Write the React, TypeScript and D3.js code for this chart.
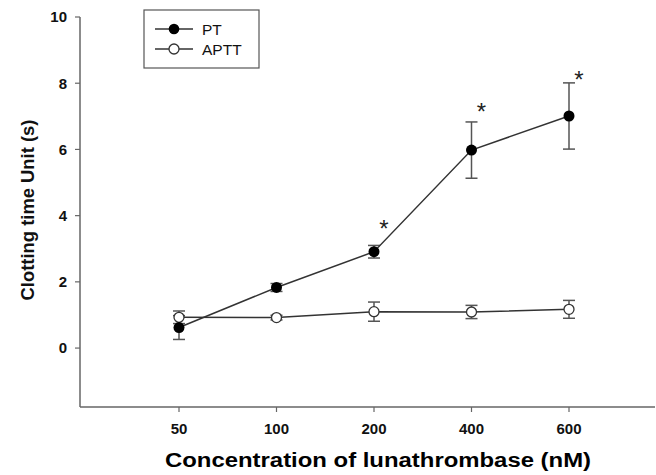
import React from "react";
import * as d3 from "d3";

// Concentrations (nM), shown as evenly spaced categories
const concentrations = ["50", "100", "200", "400", "600"];

// Prothrombin time
const ptMean = [0.62, 1.83, 2.91, 5.98, 7.01];
const ptErr = [0.36, 0.12, 0.19, 0.85, 1.0];

// Activated partial thromboplastin time
const apttMean = [0.93, 0.92, 1.1, 1.09, 1.17];
const apttErr = [0.19, 0.07, 0.29, 0.2, 0.27];

// Significance markers: category index and y value of the asterisk
const starIndex = [2, 3, 4];
const starY = [3.8, 7.35, 8.3];

const yTicks = [0, 2, 4, 6, 8, 10];

const W = 656;
const H = 475;
const FONT = "'Liberation Sans', Arial, Helvetica, sans-serif";

export default function App() {
  const x = d3.scaleLinear().domain([0, 4]).range([179, 569]);
  const y = d3.scaleLinear().domain([-1.78, 10]).range([407, 17]);

  const axisX0 = 80;
  const axisX1 = 655;
  const axisY = y(-1.78);

  const line = d3
    .line<number>()
    .x((_, i) => x(i))
    .y((d) => y(d));

  const errBars = (means: number[], errs: number[], key: string) =>
    means.map((m, i) => (
      <g key={key + i} stroke="#555" strokeWidth={1.5}>
        <line x1={x(i)} x2={x(i)} y1={y(m + errs[i])} y2={y(m - errs[i])} />
        <line x1={x(i) - 6} x2={x(i) + 6} y1={y(m + errs[i])} y2={y(m + errs[i])} />
        <line x1={x(i) - 6} x2={x(i) + 6} y1={y(m - errs[i])} y2={y(m - errs[i])} />
      </g>
    ));

  return (
    <svg
      width={W}
      height={H}
      style={{ position: "absolute", left: 0, top: 0, background: "#fff" }}
      fontFamily={FONT}
    >
      <rect width={W} height={H} fill="#fff" />

      {/* axes */}
      <line x1={axisX0} x2={axisX0} y1={y(10)} y2={axisY} stroke="#666" strokeWidth={1.5} />
      <line x1={axisX0} x2={axisX1} y1={axisY} y2={axisY} stroke="#666" strokeWidth={1.5} />

      {yTicks.map((t) => (
        <g key={"yt" + t}>
          <line x1={axisX0 - 5} x2={axisX0} y1={y(t)} y2={y(t)} stroke="#666" strokeWidth={1.2} />
          <text
            x={67}
            y={y(t)}
            dy="0.36em"
            textAnchor="end"
            fontSize={15}
            fontWeight="bold"
            fill="#111"
          >
            {t}
          </text>
        </g>
      ))}

      {concentrations.map((c, i) => (
        <g key={"xt" + c}>
          <line x1={x(i)} x2={x(i)} y1={axisY} y2={axisY + 5} stroke="#666" strokeWidth={1.2} />
          <text
            x={x(i)}
            y={429}
            dy="0.36em"
            textAnchor="middle"
            fontSize={15}
            fontWeight="bold"
            fill="#111"
          >
            {c}
          </text>
        </g>
      ))}

      {/* axis titles */}
      <text
        x={378}
        y={460}
        dy="0.36em"
        textAnchor="middle"
        fontSize={20}
        fontWeight="bold"
        fill="#000"
        textLength={426}
        lengthAdjust="spacingAndGlyphs"
      >
        Concentration of lunathrombase (nM)
      </text>
      <text
        transform={`translate(27,210) rotate(-90)`}
        dy="0.36em"
        textAnchor="middle"
        fontSize={18.4}
        fontWeight="bold"
        fill="#111"
      >
        Clotting time Unit (s)
      </text>

      {/* error bars */}
      {errBars(ptMean, ptErr, "pte")}
      {errBars(apttMean, apttErr, "apte")}

      {/* series lines */}
      <path d={line(apttMean) || ""} fill="none" stroke="#333" strokeWidth={1.5} />
      <path d={line(ptMean) || ""} fill="none" stroke="#333" strokeWidth={1.5} />

      {/* markers */}
      {apttMean.map((m, i) => (
        <circle key={"am" + i} cx={x(i)} cy={y(m)} r={5} fill="#fff" stroke="#333" strokeWidth={1.3} />
      ))}
      {ptMean.map((m, i) => (
        <circle key={"pm" + i} cx={x(i)} cy={y(m)} r={5.5} fill="#000" />
      ))}

      {/* significance asterisks */}
      {starIndex.map((idx, k) => (
        <text
          key={"st" + k}
          x={x(idx) + 10}
          y={y(starY[k])}
          dy="0.62em"
          textAnchor="middle"
          fontSize={24}
          fill="#222"
        >
          *
        </text>
      ))}

      {/* legend */}
      <rect x={144} y={10} width={115} height={58} fill="#fff" stroke="#555" strokeWidth={1.2} />
      <line x1={155} x2={193} y1={29} y2={29} stroke="#333" strokeWidth={1.3} />
      <circle cx={174} cy={29} r={5.3} fill="#000" />
      <text x={202} y={29} dy="0.36em" fontSize={15.5} fill="#111">
        PT
      </text>
      <line x1={155} x2={193} y1={49} y2={49} stroke="#333" strokeWidth={1.3} />
      <circle cx={174} cy={49} r={5} fill="#fff" stroke="#333" strokeWidth={1.3} />
      <text x={202} y={49} dy="0.36em" fontSize={15.5} fill="#111">
        APTT
      </text>
    </svg>
  );
}
